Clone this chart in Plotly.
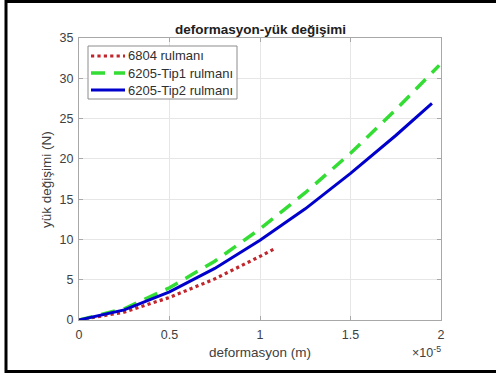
import plotly.graph_objects as go

# Deformation values in units of 1e-5 m, load change in N
x_6804 = [0, 0.25, 0.5, 0.75, 1.0, 1.077]
y_6804 = [0, 0.98, 2.8, 5.1, 7.9, 8.8]

x_tip1 = [0, 0.25, 0.5, 0.75, 1.0, 1.25, 1.5, 1.75, 1.99]
y_tip1 = [0, 1.4, 4.0, 7.3, 11.3, 15.8, 20.7, 26.1, 31.6]

x_tip2 = [0, 0.25, 0.5, 0.75, 1.0, 1.25, 1.5, 1.75, 1.95]
y_tip2 = [0, 1.25, 3.5, 6.4, 9.9, 13.8, 18.2, 22.9, 26.9]

series_names = ["6804 rulmanı", "6205-Tip1 rulmanı", "6205-Tip2 rulmanı"]
series_colors = ["#c0262c", "#33dd33", "#0000cc"]
series_dash = ["dot", "14px,9px", "solid"]
series_width = [3.2, 3.5, 3]

x_ticks = [0, 0.5, 1, 1.5, 2]
x_tick_labels = ["0", "0.5", "1", "1.5", "2"]
y_ticks = [0, 5, 10, 15, 20, 25, 30, 35]

W, H = 496, 374
L, R, T, B = 79, 55, 38, 54
pw, ph = W - L - R, H - T - B

FONT = "Liberation Sans, Arial, sans-serif"
TXT = "#404040"


def px_x(p):
    return (p - L) / pw


def px_y(p):
    return (H - B - p) / ph


fig = go.Figure()
for xs, ys, name, col, dash, lw in zip(
    [x_6804, x_tip1, x_tip2], [y_6804, y_tip1, y_tip2],
    series_names, series_colors, series_dash, series_width,
):
    fig.add_trace(go.Scatter(x=xs, y=ys, mode="lines", name=name, showlegend=False,
                             line=dict(color=col, width=lw, dash=dash)))

axis_common = dict(
    showline=True, linecolor="#a8a8a8", linewidth=1, mirror="allticks",
    ticks="inside", ticklen=4, tickcolor="#a8a8a8",
    showgrid=True, gridcolor="#e6e6e6", gridwidth=1, zeroline=False,
    tickfont=dict(family=FONT, size=12.5, color=TXT),
)

annotations = [
    dict(text="<b>deformasyon-yük değişimi</b>", xref="paper", yref="paper",
         x=px_x(260), y=px_y(29), xanchor="center", yanchor="middle", showarrow=False,
         font=dict(family=FONT, size=13.5, color="#202020")),
    dict(text="deformasyon (m)", xref="paper", yref="paper",
         x=px_x(260), y=px_y(352), xanchor="center", yanchor="middle", showarrow=False,
         font=dict(family=FONT, size=13.5, color=TXT)),
    dict(text="yük değişimi (N)", xref="paper", yref="paper", textangle=-90,
         x=px_x(46), y=px_y(180), xanchor="center", yanchor="middle", showarrow=False,
         font=dict(family=FONT, size=13.5, color=TXT)),
    dict(text="×10<sup>-5</sup>", xref="paper", yref="paper",
         x=px_x(443), y=px_y(352), xanchor="right", yanchor="middle", showarrow=False,
         font=dict(family=FONT, size=12.5, color=TXT)),
]

shapes = [
    # outer frame
    dict(type="rect", xref="paper", yref="paper",
         x0=px_x(6), x1=px_x(505), y0=px_y(371.5), y1=px_y(1.5),
         line=dict(color="black", width=3), fillcolor="rgba(0,0,0,0)", layer="above"),
    # legend box
    dict(type="rect", xref="paper", yref="paper",
         x0=px_x(88), x1=px_x(237), y0=px_y(99), y1=px_y(46),
         line=dict(color="#8c8c8c", width=1), fillcolor="white", layer="above"),
]

# legend entries: line sample + label
for i, (name, col, dash, lw) in enumerate(zip(series_names, series_colors, series_dash, series_width)):
    yy = 56 + 17 * i
    shapes.append(dict(type="line", xref="paper", yref="paper",
                       x0=px_x(91), x1=px_x(125), y0=px_y(yy), y1=px_y(yy),
                       line=dict(color=col, width=lw, dash=dash), layer="above"))
    annotations.append(dict(text=name, xref="paper", yref="paper",
                            x=px_x(126), y=px_y(yy), xanchor="left", yanchor="middle",
                            showarrow=False,
                            font=dict(family=FONT, size=13, color="#303030")))

fig.update_layout(
    width=W, height=H,
    margin=dict(l=L, r=R, t=T, b=B),
    paper_bgcolor="white", plot_bgcolor="white",
    font=dict(family=FONT, color=TXT),
    showlegend=False,
    xaxis=dict(range=[0, 2], tickvals=x_ticks, ticktext=x_tick_labels,
               ticklabelstandoff=3, **axis_common),
    yaxis=dict(range=[0, 35], tickvals=y_ticks, ticklabelstandoff=2, **axis_common),
    annotations=annotations,
    shapes=shapes,
)

fig.write_html("out.html")
